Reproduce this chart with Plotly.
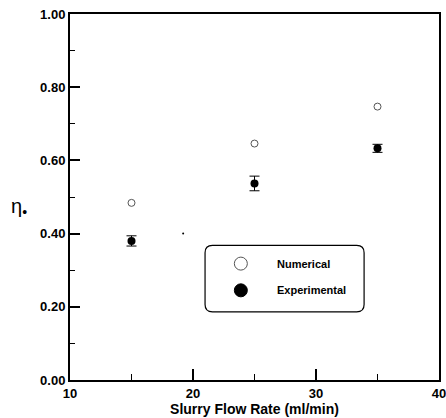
import plotly.graph_objects as go

flow_rate = [15, 25, 35]
numerical = [0.484, 0.646, 0.747]
experimental = [0.380, 0.537, 0.633]
exp_err = [0.014, 0.020, 0.011]
speck_x = [19.2]
speck_y = [0.40]

FONT = "Liberation Sans"

fig = go.Figure()
fig.add_trace(go.Scatter(
    x=flow_rate, y=numerical, mode="markers", name="Numerical",
    marker=dict(symbol="circle-open", size=7, color="#555", line=dict(width=1, color="#555")),
    showlegend=False))
fig.add_trace(go.Scatter(
    x=flow_rate, y=experimental, mode="markers", name="Experimental",
    marker=dict(symbol="circle", size=8, color="black"),
    error_y=dict(type="data", array=exp_err, visible=True, color="black", thickness=1, width=5),
    showlegend=False))
fig.add_trace(go.Scatter(
    x=speck_x, y=speck_y, mode="markers", marker=dict(size=2, color="black"),
    showlegend=False, hoverinfo="skip"))

axis_common = dict(
    showline=True, linecolor="black", linewidth=2, mirror=True,
    ticks="inside", tickcolor="black", tickwidth=1.5,
    showgrid=False, zeroline=False, automargin=False,
    ticklabeloverflow="allow",
    tickfont=dict(family=FONT, size=13, color="black", weight="bold"),
)

fig.update_xaxes(range=[10, 40], dtick=10, tick0=10, ticklen=11,
                 minor=dict(dtick=5, tick0=10, ticklen=6, ticks="inside", tickcolor="black", tickwidth=1),
                 title=dict(text="Slurry Flow Rate (ml/min)", standoff=0,
                            font=dict(family=FONT, size=14, color="black", weight="bold")),
                 **axis_common)
fig.update_yaxes(range=[0, 1], dtick=0.2, tick0=0, ticklen=10, tickformat=".2f",
                 minor=dict(dtick=0.1, tick0=0, ticklen=5, ticks="inside", tickcolor="black", tickwidth=1),
                 **axis_common)

fig.add_annotation(x=-0.165, y=0.47, xref="paper", yref="paper", text="η<sub>•</sub>",
                   showarrow=False, xanchor="left", yanchor="middle",
                   font=dict(family=FONT, size=20, color="black"))

# legend box (rounded rectangle) in paper coordinates
x0, x1, y0, y1 = 0.366, 0.797, 0.186, 0.368
r = 0.02
path = (f"M {x0+r},{y1} L {x1-r},{y1} Q {x1},{y1} {x1},{y1-r} "
        f"L {x1},{y0+r} Q {x1},{y0} {x1-r},{y0} L {x0+r},{y0} "
        f"Q {x0},{y0} {x0},{y0+r} L {x0},{y1-r} Q {x0},{y1} {x0+r},{y1} Z")
fig.add_shape(type="path", path=path, xref="paper", yref="paper",
              line=dict(color="black", width=1.2))

legend_items = [("Numerical", 0.318, "white", "#555"), ("Experimental", 0.245, "black", "black")]
for label, yy, fill, edge in legend_items:
    cx = 0.463
    rx = 6.5 / 369
    rr = 6.5 / 366
    fig.add_shape(type="circle", xref="paper", yref="paper",
                  x0=cx - rx, x1=cx + rx, y0=yy - rr, y1=yy + rr,
                  fillcolor=fill, line=dict(color=edge, width=1))
    fig.add_annotation(x=0.556, y=yy, xref="paper", yref="paper", text=label,
                       showarrow=False, xanchor="left", yanchor="middle",
                       font=dict(family=FONT, size=11, color="black", weight="bold"))

fig.update_layout(
    width=446, height=418,
    margin=dict(l=70, r=7, t=14, b=38),
    paper_bgcolor="white", plot_bgcolor="white",
    showlegend=False,
)

fig.write_html("out.html")
